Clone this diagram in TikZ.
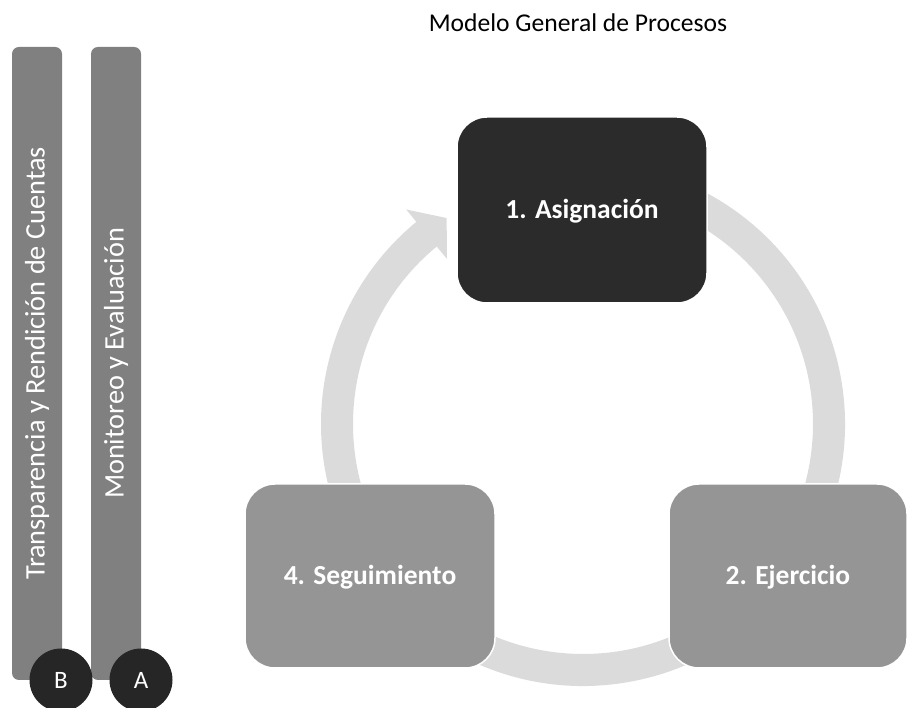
\documentclass[tikz,border=0pt]{standalone}
\usepackage{fontspec}
\setmainfont{Carlito}
\definecolor{ringgray}{HTML}{DBDBDB}
\definecolor{stagedark}{HTML}{2B2B2B}
\definecolor{stagegray}{HTML}{959595}
\definecolor{bargray}{HTML}{808080}
\definecolor{badgedark}{HTML}{262626}

\begin{document}
\begin{tikzpicture}[x=1pt,y=1pt,
      stage/.style={draw=white,line width=1.5pt,rounded corners=30pt,text=white,
        font=\fontsize{27.5}{33}\selectfont\bfseries,text height=23pt,text depth=5.5pt},
      pillar/.style={fill=bargray,rounded corners=7pt,rotate=90,minimum width=633pt,
        minimum height=50pt,inner sep=0pt,text=white,font=\fontsize{28.3}{34}\selectfont},
      badge/.style={circle,fill=badgedark,minimum size=63pt,inner sep=0pt,text=white,
        font=\fontsize{25}{30}\selectfont}]
      \useasboundingbox (0,0) rectangle (909,708);
      % cycle ring behind the stages
      \fill[ringgray,shift={(583,284)}] (100:262) arc[start angle=100,end angle=-230.5,radius=262]
        -- (129.5:278) -- (123.5:247) -- (129.5:214) -- (129.5:230)
        arc[start angle=-230.5,end angle=100,radius=230] -- cycle;
      \node[stage,fill=stagedark,minimum width=250pt,minimum height=186pt] (asig) at (582,498) {1. Asignación};
      \node[stage,fill=stagegray,minimum width=238pt,minimum height=184pt] (ejer) at (788,132) {2. Ejercicio};
      \node[stage,fill=stagegray,minimum width=250pt,minimum height=184pt] (segu) at (370,132) {4. Seguimiento};
      % side pillars
      \node[pillar] (trans) at (37,344.5) {Transparencia y Rendición de Cuentas};
      \node[pillar] (moni) at (116,344.5) {Monitoreo y Evaluación};
      \node[badge] (b) at (61,28) {B};
      \node[badge] (a) at (141,28) {A};
      \node[anchor=base,font=\fontsize{25.6}{30}\selectfont] (titulo) at (578,676) {Modelo General de Procesos};
    \end{tikzpicture}
\end{document}
